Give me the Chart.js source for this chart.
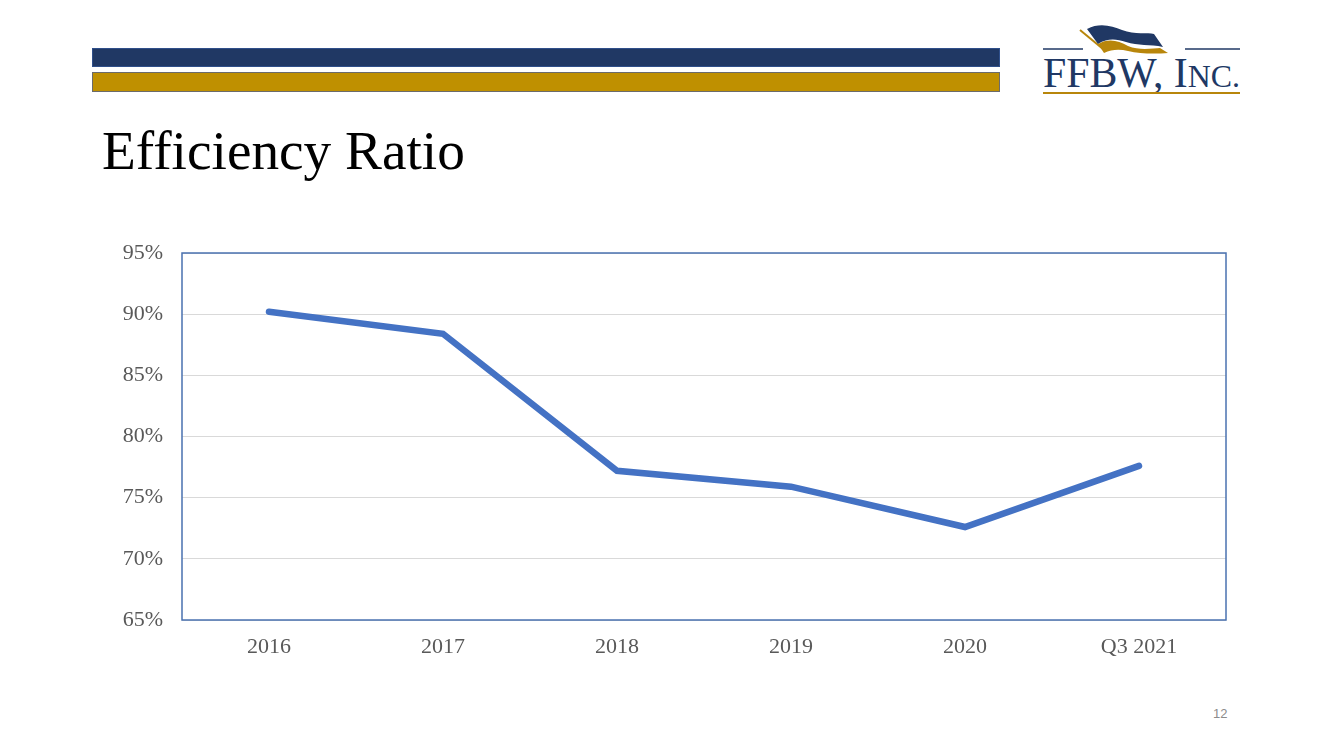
<!DOCTYPE html>
<html><head><meta charset="utf-8">
<script src="https://cdn.jsdelivr.net/npm/chart.js@4"></script>
<style>
html,body{margin:0;padding:0;background:#fff;}
#page{position:relative;width:1333px;height:749px;overflow:hidden;background:#fff;}
#bar1{position:absolute;left:92px;top:48px;width:908px;height:19px;background:#203864;border:1px solid #2f4f8a;box-sizing:border-box;}
#bar2{position:absolute;left:92px;top:72px;width:908px;height:20px;background:#BF9000;border:1px solid #6b6b6b;box-sizing:border-box;}
#title{position:absolute;left:102px;top:118px;font-family:"Liberation Serif",serif;font-size:55.3px;line-height:66px;color:#000;white-space:nowrap;}
#pnum{position:absolute;left:1213px;top:706px;font-family:"Liberation Sans",sans-serif;font-size:13px;color:#8c8c8c;}
#wrap{position:absolute;left:0;top:0;width:1333px;height:749px;}
#logo{position:absolute;left:1040px;top:20px;width:205px;height:78px;}
</style></head>
<body><div id="page">
<div id="bar1"></div><div id="bar2"></div>
<div id="title">Efficiency Ratio</div>
<svg id="logo" viewBox="0 0 205 78">
  <line x1="3" y1="29" x2="43" y2="29" stroke="#203864" stroke-width="1.6"/>
  <line x1="145" y1="29" x2="200" y2="29" stroke="#203864" stroke-width="1.6"/>
  <line x1="40" y1="10" x2="63" y2="29" stroke="#B8860B" stroke-width="2"/>
  <path d="M47 9 C60 2 72 6 82 10 C95 15 108 12 114 14 L123 27 C110 24 98 26 86 22 C76 19 68 18 58 24 Z" fill="#203864"/>
  <path d="M58 24 C68 18 78 20 88 26 C100 31 114 28 120 28 L128 33 C116 34 100 34 88 31 C80 29 72 29 64 33 Z" fill="#B8860B"/>
  <text x="3" y="67" font-family="Liberation Serif,serif" font-size="42" fill="#203864" textLength="197" lengthAdjust="spacingAndGlyphs">FFBW, I<tspan font-size="32">NC.</tspan></text>
  <line x1="3" y1="73" x2="200" y2="73" stroke="#B8860B" stroke-width="2"/>
</svg>
<div id="pnum">12</div>
<div id="wrap"><canvas id="c" width="1333" height="749"></canvas></div>
</div>
<script>
const categories = ["2016","2017","2018","2019","2020","Q3 2021"];
const efficiencyRatio = [90.2, 88.4, 77.2, 75.9, 72.6, 77.6];
const yMin = 65, yMax = 95, yStep = 5;

const boxPlugin = {
  id:'box',
  beforeDatasetsDraw(chart){
    const a = chart.chartArea, ctx = chart.ctx;
    ctx.save();
    ctx.strokeStyle = '#4A72B0';
    ctx.lineWidth = 1.5;
    ctx.strokeRect(a.left, a.top, a.right - a.left, a.bottom - a.top);
    ctx.restore();
  }
};

new Chart(document.getElementById('c'), {
  type:'line',
  data:{labels:categories, datasets:[{
    data:efficiencyRatio,
    borderColor:'#4472C4',
    borderWidth:6.5,
    pointRadius:0,
    borderCapStyle:'round',
    borderJoinStyle:'miter',
    tension:0,
    fill:false
  }]},
  options:{
    responsive:false,
    animation:false,
    devicePixelRatio:1,
    layout:{padding:{left:100, right:107, top:253, bottom:79}},
    plugins:{legend:{display:false}, tooltip:{enabled:false}},
    scales:{
      x:{
        offset:true,
        grid:{display:false, drawTicks:false},
        border:{display:false},
        ticks:{color:'#595959', font:{family:'"Liberation Serif", serif', size:22}, padding:14, maxRotation:0},
        afterFit(s){ s.height = 50; }
      },
      y:{
        min:yMin, max:yMax,
        grid:{color:'#D9D9D9', lineWidth:1, drawTicks:false},
        border:{display:false},
        ticks:{stepSize:yStep, color:'#595959', font:{family:'"Liberation Serif", serif', size:22}, padding:19,
          callback:v=>v+'%'},
        afterFit(s){ s.width = 82; }
      }
    }
  },
  plugins:[boxPlugin]
});
</script>
</body></html>
